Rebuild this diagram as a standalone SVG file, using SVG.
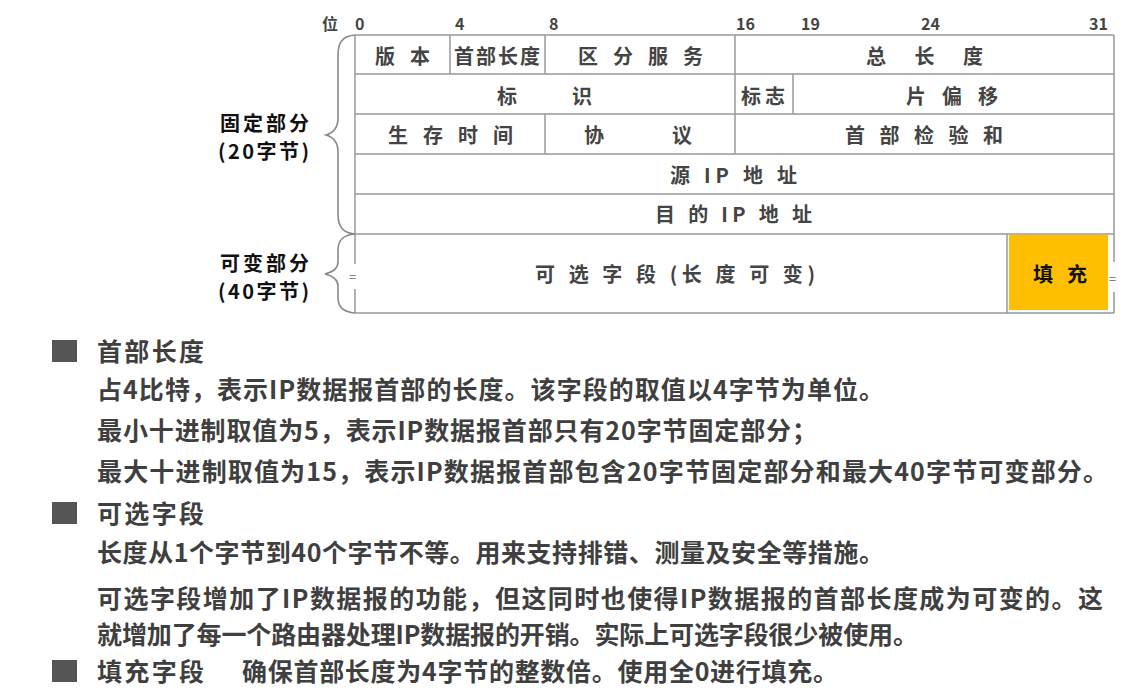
<svg xmlns="http://www.w3.org/2000/svg" width="1131" height="699" viewBox="0 0 1131 699">
<style>
text{font-family:"Noto Sans CJK SC","Noto Sans",sans-serif;font-weight:bold;dominant-baseline:central}
.bit{font-size:16px;fill:#444}
.cell{font-size:20px;fill:#444}
.side{font-size:20px;fill:#111}
.body{font-size:25px;fill:#3f3f3f}
.ln{stroke:#999;stroke-width:1.5;fill:none}
.br{stroke:#888;stroke-width:1.6;fill:none}
.sq{fill:#555}
.eq{font-size:13px;font-weight:normal;fill:#666}
</style>
<rect width="1131" height="699" fill="#fff"/>
<g id="bits">
<text class="bit" x="322" y="23" textLength="18">位</text>
<text class="bit" x="355" y="23">0</text>
<text class="bit" x="455" y="23">4</text>
<text class="bit" x="549" y="23">8</text>
<text class="bit" x="736" y="23">16</text>
<text class="bit" x="801" y="23">19</text>
<text class="bit" x="921" y="23">24</text>
<text class="bit" x="1089" y="23">31</text>
</g>
<g id="grid">
<path class="ln" d="M355 35H1114M355 74H1114M355 114H1114M355 154H1114M355 194H1114M355 234H1114M355 313H1114"/>
<path class="ln" d="M355 35V264M355 289V313M1114 35V262M1114 292V313"/>
<path class="ln" d="M450 35V74M545 35V74M735 35V74M793 74V114M735 74V114M545 114V154M735 114V154M1007 234V313"/>
</g>
<g id="braces">
<path class="br" d="M355 35C343 36 338 42 338 55V118C338 128 333 133 326 135C333 137 338 142 338 152V214C338 227 343 233 355 234"/>
<path class="br" d="M355 234C343 235 338 240 338 250V262C338 268 333 272 325 274C333 276 338 280 338 286V298C338 307 343 312 355 313"/>
</g>
<g id="f-version"><text class="cell" x="375" y="55" textLength="55">版 本</text></g>
<g id="f-ihl"><text class="cell" x="454" y="55" textLength="86">首部长度</text></g>
<g id="f-ds"><text class="cell" x="578" y="55" textLength="125">区 分 服 务</text></g>
<g id="f-total"><text class="cell" x="866" y="55" textLength="117">总 长 度</text></g>
<g id="f-id"><text class="cell" x="497" y="95" textLength="95">标      识</text></g>
<g id="f-flags"><text class="cell" x="741" y="95" textLength="44">标志</text></g>
<g id="f-frag"><text class="cell" x="906" y="95" textLength="92">片 偏 移</text></g>
<g id="f-ttl"><text class="cell" x="388" y="134" textLength="125">生 存 时 间</text></g>
<g id="f-proto"><text class="cell" x="584" y="134" textLength="108">协       议</text></g>
<g id="f-cksum"><text class="cell" x="845" y="134" textLength="158">首 部 检 验 和</text></g>
<g id="f-src"><text class="cell" x="670" y="174" textLength="127">源 IP 地 址</text></g>
<g id="f-dst"><text class="cell" x="655" y="213" textLength="157">目 的 IP 地 址</text></g>
<g id="f-opt"><text class="cell" x="535" y="273" textLength="280">可 选 字 段 (长 度 可 变)</text>
<text class="eq" x="349" y="276">=</text></g>
<g id="f-pad"><rect x="1009" y="235" width="99" height="75" fill="#ffbf00"/>
<text class="cell" x="1033" y="273" textLength="54" style="fill:#111">填 充</text>
<text class="eq" x="1109" y="278">=</text></g>
<g id="side-labels">
<text class="side" x="220" y="122" textLength="89">固定部分</text>
<text class="side" x="218" y="150" textLength="91">(20字节)</text>
<text class="side" x="220" y="262" textLength="89">可变部分</text>
<text class="side" x="218" y="290" textLength="91">(40字节)</text>
</g>
<g id="notes">
<rect class="sq" x="52" y="340" width="25" height="22"/>
<rect class="sq" x="52" y="502" width="25" height="22"/>
<rect class="sq" x="52" y="660" width="25" height="22"/>
<text class="body" x="97" y="350" textLength="107">首部长度</text>
<text class="body" x="97" y="388" textLength="787">占4比特，表示IP数据报首部的长度。该字段的取值以4字节为单位。</text>
<text class="body" x="97" y="429" textLength="720">最小十进制取值为5，表示IP数据报首部只有20字节固定部分；</text>
<text class="body" x="97" y="470" textLength="1011">最大十进制取值为15，表示IP数据报首部包含20字节固定部分和最大40字节可变部分。</text>
<text class="body" x="97" y="512" textLength="107">可选字段</text>
<text class="body" x="97" y="551" textLength="787">长度从1个字节到40个字节不等。用来支持排错、测量及安全等措施。</text>
<text class="body" x="97" y="597" textLength="1006">可选字段增加了IP数据报的功能，但这同时也使得IP数据报的首部长度成为可变的。这</text>
<text class="body" x="97" y="633" textLength="821">就增加了每一个路由器处理IP数据报的开销。实际上可选字段很少被使用。</text>
<text class="body" x="97" y="670" textLength="107">填充字段</text>
<text class="body" x="242" y="670" textLength="596">确保首部长度为4字节的整数倍。使用全0进行填充。</text>
</g>
</svg>
